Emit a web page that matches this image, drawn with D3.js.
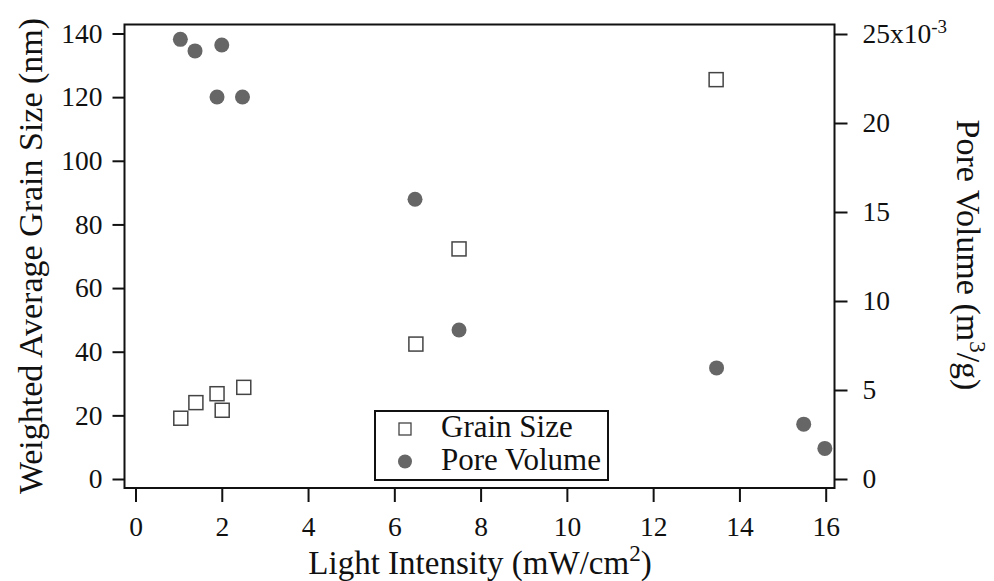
<!DOCTYPE html>
<html>
<head>
<meta charset="utf-8">
<script src="https://cdn.jsdelivr.net/npm/d3@7"></script>
<style>
  body { margin: 0; background: #fff; }
  text { font-family: "Liberation Serif", "DejaVu Serif", serif; fill: #111; }
  .axis path { display: none; }
  .axis line { stroke: #111; stroke-width: 2; }
  .axis text { font-size: 27.5px; }
</style>
</head>
<body>
<div id="chart"></div>
<script>
var width = 994,
    height = 581,
    frame = {"left": 124.5, "right": 834.5, "top": 24.5, "bottom": 488};

// data
var grainX = [1.05, 1.4, 1.89, 2.01, 2.51, 6.5, 7.5, 13.46];
var grainSize = [19.1, 24.0, 26.8, 21.6, 28.8, 42.4, 72.3, 125.5];
var poreX = [1.04, 1.38, 2.0, 1.89, 2.48, 6.48, 7.5, 13.47, 15.49, 15.98];
var poreVolume = [24.7, 24.05, 24.38, 21.46, 21.46, 15.72, 8.37, 6.24, 3.08, 1.72];
var xTicks = [0, 2, 4, 6, 8, 10, 12, 14, 16];
var leftTicks = [0, 20, 40, 60, 80, 100, 120, 140];
var rightTicks = [0, 5, 10, 15, 20, 25];
var legendLabels = ["Grain Size", "Pore Volume"];

var svg = d3.select("#chart")
  .append("svg")
  .attr("width", width)
  .attr("height", height);

var x = d3.scaleLinear().domain([0, 16]).range([135.5, 825.7]);
var yL = d3.scaleLinear().domain([0, 140]).range([479, 33.5]);
var yR = d3.scaleLinear().domain([0, 25]).range([479, 34]);

// frame
svg.append("rect")
  .attr("x", frame.left)
  .attr("y", frame.top)
  .attr("width", frame.right - frame.left)
  .attr("height", frame.bottom - frame.top)
  .style("fill", "none")
  .style("stroke", "#111")
  .style("stroke-width", 2);

// axes
svg.append("g")
  .attr("class", "axis")
  .attr("transform", "translate(0," + frame.bottom + ")")
  .call(d3.axisBottom(x).tickValues(xTicks).tickSize(14).tickPadding(14).tickFormat(d3.format("d")));

svg.append("g")
  .attr("class", "axis")
  .attr("transform", "translate(" + frame.left + ",0)")
  .call(d3.axisLeft(yL).tickValues(leftTicks).tickSize(12).tickPadding(10).tickFormat(d3.format("d")));

var rAxis = svg.append("g")
  .attr("class", "axis")
  .attr("transform", "translate(" + frame.right + ",0)")
  .call(d3.axisRight(yR).tickValues(rightTicks).tickSize(13).tickPadding(15).tickFormat(d3.format("d")));

// 25x10^-3 label on the top right tick
rAxis.selectAll(".tick text")
  .filter(d => d == 25)
  .text("25x10")
  .append("tspan")
  .attr("dy", "-0.55em")
  .style("font-size", "19px")
  .text("-3");

// axis titles
svg.append("text")
  .attr("transform", "translate(42," + 256 + ") rotate(-90)")
  .attr("text-anchor", "middle")
  .style("font-size", "34px")
  .text("Weighted Average Grain Size (nm)");

var xt = svg.append("text")
  .attr("x", 480)
  .attr("y", 574)
  .attr("text-anchor", "middle")
  .style("font-size", "33px")
  .text("Light Intensity (mW/cm");
xt.append("tspan").attr("dy", "-0.55em").style("font-size", "23px").text("2");
xt.append("tspan").attr("dy", "0.38em").text(")");

var yt = svg.append("text")
  .attr("transform", "translate(957," + 255 + ") rotate(90)")
  .attr("text-anchor", "middle")
  .style("font-size", "34px")
  .text("Pore Volume (m");
yt.append("tspan").attr("dy", "-0.55em").style("font-size", "23px").text("3");
yt.append("tspan").attr("dy", "0.37em").text("/g)");

// points
svg.selectAll("circle.pore")
  .data(poreX)
  .enter()
  .append("circle")
  .attr("class", "pore")
  .attr("cx", d => x(d))
  .attr("cy", (d, i) => yR(poreVolume[i]))
  .attr("r", 7.5)
  .style("fill", "#666");

svg.selectAll("rect.grain")
  .data(grainX)
  .enter()
  .append("rect")
  .attr("class", "grain")
  .attr("x", d => x(d) - 7)
  .attr("y", (d, i) => yL(grainSize[i]) - 7)
  .attr("width", 14)
  .attr("height", 14)
  .style("fill", "none")
  .style("stroke", "#444")
  .style("stroke-width", 1.5);

// legend
var legend = svg.append("g").attr("transform", "translate(375,411)");
legend.append("rect")
  .attr("width", 233)
  .attr("height", 69)
  .style("fill", "#fff")
  .style("stroke", "#111")
  .style("stroke-width", 2);
legend.append("rect")
  .attr("x", 24)
  .attr("y", 12)
  .attr("width", 12)
  .attr("height", 12)
  .style("fill", "none")
  .style("stroke", "#444")
  .style("stroke-width", 1.3);
legend.append("circle")
  .attr("cx", 30)
  .attr("cy", 50.5)
  .attr("r", 7)
  .style("fill", "#666");
legend.selectAll("text.leg")
  .data(legendLabels)
  .enter()
  .append("text")
  .attr("class", "leg")
  .attr("x", 66)
  .attr("y", (d, i) => 26 + i * 33)
  .style("font-size", "31px")
  .text(d => d);
</script>
</body>
</html>
